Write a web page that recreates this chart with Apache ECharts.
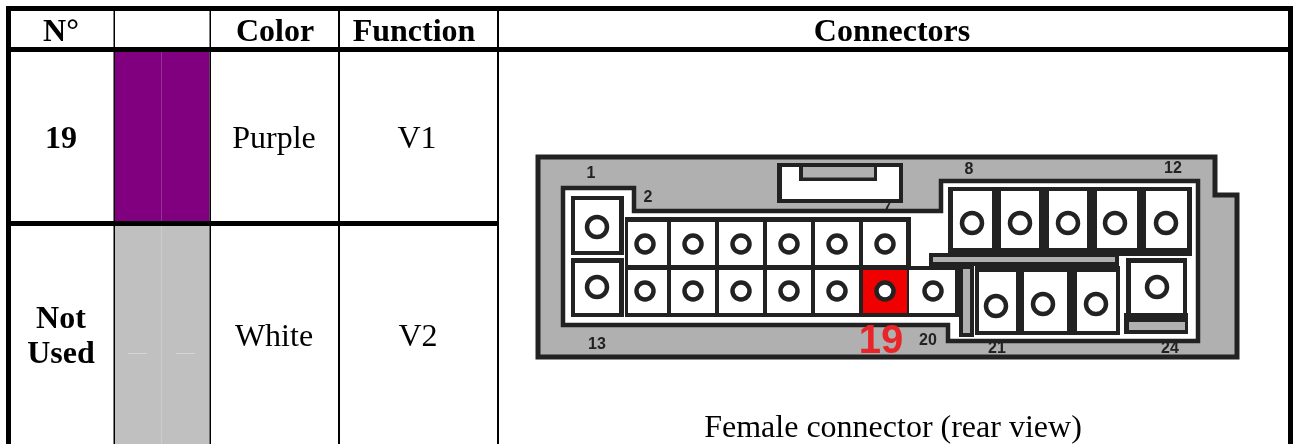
<!DOCTYPE html>
<html>
<head>
<meta charset="utf-8">
<title>Connector table</title>
<script src="https://cdn.jsdelivr.net/npm/echarts@6/dist/echarts.min.js"></script>
<style>
  html, body { margin: 0; padding: 0; background: #fff; }
  #main { width: 1294px; height: 444px; }
</style>
</head>
<body>
<div id="main"></div>
<script>
// table content
const headers = ['N°', 'Color', 'Function', 'Connectors'];
const pinNumbers = ['19', 'Not', 'Used'];
const colorNames = ['Purple', 'White'];
const functions = ['V1', 'V2'];
const caption = 'Female connector (rear view)';
const pinLabels = ['1', '2', '7', '8', '12', '13', '20', '21', '24'];
const highlightPin = '19';

// layout, in page pixels (the axes below run 1:1 with the page)
const headerPos = [[61, 33], [275, 33], [414, 33], [892, 33]];
const pinNumberPos = [[61, 140], [61, 320], [61, 355]];
const colorPos = [[274, 140], [274, 338]];
const functionPos = [[417, 140], [418, 338]];
const captionPos = [893, 429];
const labelPos = [[591, 174], [648, 198], [887, 209], [969, 170], [1173, 169],
  [597, 345], [928, 341], [997, 349], [1170, 349]];
const highlightPos = [881, 342];

const tableLines = [
  [6, 6, 1288, 11], [6, 47, 1288, 52], [6, 221, 499, 226],
  [6, 6, 11, 444], [113.5, 6, 115, 444], [209.5, 6, 211, 444],
  [338, 6, 340, 444], [497, 6, 499, 444], [1288, 6, 1293, 444]
];
const shell = [[538, 157], [1215, 157], [1215, 195], [1237, 195], [1237, 357], [538, 357]];
const cavity = [[563, 188], [634, 188], [634, 211], [941, 211], [941, 181], [1198, 181],
  [1198, 341], [948, 341], [948, 325], [563, 325]];

const darkBlocks = [
  [948, 187, 1192, 256], [929, 253, 1119, 266], [959, 266, 974, 337],
  [975, 266, 1120, 335], [1124, 313, 1188, 334],
  [625, 217, 911, 317], [907, 266, 963, 317],
  [777, 163, 903, 203],
  [571, 196, 624, 255], [571, 258, 624, 317], [1126, 258, 1187, 320]
];
const whiteCells = [
  [782, 167, 899, 199],
  [575, 200, 619, 251], [575, 263, 619, 313], [1131, 263, 1183, 313],
  [628, 222, 667, 265], [671, 222, 715, 265], [719, 222, 763, 265], [767, 222, 811, 265],
  [815, 222, 859, 265], [863, 222, 906, 265],
  [628, 270, 667, 313], [671, 270, 715, 313], [719, 270, 763, 313], [767, 270, 811, 313],
  [815, 270, 859, 313], [909, 270, 955, 313],
  [953, 191, 992, 248], [1001, 191, 1039, 248], [1049, 191, 1087, 248],
  [1097, 191, 1137, 248], [1146, 191, 1187, 248],
  [979, 272, 1016, 331], [1024, 272, 1067, 331], [1077, 272, 1116, 331]
];
const latchFrame = [[799, 164, 877, 181]];
const graySlots = [[803, 167, 874, 177.5], [933, 257, 1115, 262], [963, 269, 970, 333], [1129, 322, 1185, 330]];
const redCell = [[863, 270, 907, 313]];

const smallHoles = [[645, 244], [693, 244], [741, 244], [789, 244], [837, 244], [885, 244],
  [645, 291], [693, 291], [741, 291], [789, 291], [837, 291], [885, 291], [933, 291]];
const largeHoles = [[597, 227], [597, 287], [972, 223], [1020, 223], [1068, 223], [1115, 223], [1166, 223],
  [996, 306], [1043, 304], [1096, 304], [1157, 287]];

const ink = '#222222';

function rectSeries(rects, fill) {
  return {
    type: 'custom',
    coordinateSystem: 'cartesian2d',
    silent: true,
    clip: false,
    data: rects,
    renderItem: function (params, api) {
      const a = api.coord([api.value(0), api.value(1)]);
      const b = api.coord([api.value(2), api.value(3)]);
      return { type: 'rect', shape: { x: a[0], y: a[1], width: b[0] - a[0], height: b[1] - a[1] }, style: { fill: fill } };
    }
  };
}

function polySeries(points, fill, lineWidth) {
  return {
    type: 'custom',
    coordinateSystem: 'cartesian2d',
    silent: true,
    clip: false,
    data: [[0, 0]],
    renderItem: function (params, api) {
      return {
        type: 'polygon',
        shape: { points: points.map(function (p) { return api.coord(p); }) },
        style: { fill: fill, stroke: ink, lineWidth: lineWidth, lineJoin: 'miter' }
      };
    }
  };
}

function holeSeries(points, size, border) {
  return {
    type: 'scatter',
    silent: true,
    symbol: 'circle',
    symbolSize: size,
    itemStyle: { color: '#fff', borderColor: ink, borderWidth: border, opacity: 1 },
    data: points
  };
}

function textSeries(texts, positions, font, color) {
  return {
    type: 'custom',
    coordinateSystem: 'cartesian2d',
    silent: true,
    clip: false,
    data: positions,
    renderItem: function (params, api) {
      const c = api.coord([api.value(0), api.value(1)]);
      return {
        type: 'text',
        style: { x: c[0], y: c[1], text: texts[params.dataIndex], font: font, fill: color, align: 'center', verticalAlign: 'middle' }
      };
    }
  };
}

const serif = '"Liberation Serif", "Times New Roman", serif';
const sans = '"Liberation Sans", Arial, sans-serif';

const chart = echarts.init(document.getElementById('main'));
chart.setOption({
  animation: false,
  backgroundColor: '#fff',
  tooltip: { show: false },
  grid: { left: 0, right: 0, top: 0, bottom: 0 },
  xAxis: { type: 'value', min: 0, max: 1294, show: false },
  yAxis: { type: 'value', min: 0, max: 444, inverse: true, show: false },
  series: [
    // colour swatches
    rectSeries([[115, 52, 209.5, 221]], '#800080'),
    rectSeries([[161, 52, 162, 221]], '#963096'),
    rectSeries([[115, 226, 209.5, 444]], '#c0c0c0'),
    rectSeries([[161, 226, 162, 444]], '#cccccc'),
    rectSeries([[128, 353, 147, 354], [176, 353, 195, 354]], '#d6d6d6'),
    rectSeries(tableLines, '#000'),
    // connector drawing
    polySeries(shell, '#b0b0b0', 5),
    polySeries(cavity, '#fff', 4.5),
    rectSeries(darkBlocks, ink),
    rectSeries(whiteCells, '#fff'),
    rectSeries(latchFrame, ink),
    rectSeries(graySlots, '#b0b0b0'),
    rectSeries(redCell, '#f00000'),
    holeSeries(smallHoles, 17, 4.5),
    holeSeries(largeHoles, 20, 4.5),
    // text
    textSeries(headers, headerPos, 'bold 32px ' + serif, '#000'),
    textSeries(pinNumbers, pinNumberPos, 'bold 32px ' + serif, '#000'),
    textSeries(colorNames, colorPos, '32px ' + serif, '#000'),
    textSeries(functions, functionPos, '32px ' + serif, '#000'),
    textSeries([caption], [captionPos], '32px ' + serif, '#000'),
    textSeries(pinLabels, labelPos, 'bold 16px ' + sans, ink),
    textSeries([highlightPin], [highlightPos], 'bold 40px ' + sans, '#e8262a')
  ]
});
</script>
</body>
</html>
